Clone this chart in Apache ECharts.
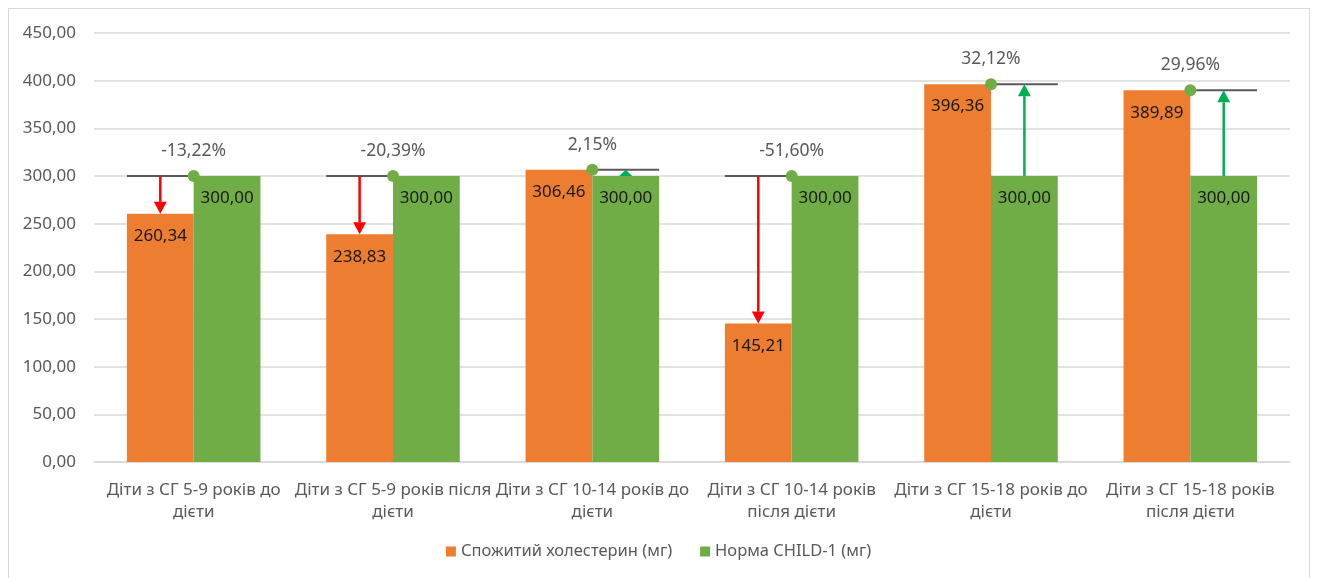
<!DOCTYPE html>
<html>
<head>
<meta charset="utf-8">
<script src="https://cdn.jsdelivr.net/npm/echarts@6/dist/echarts.min.js"></script>
<style>
  html, body { margin: 0; padding: 0; background: #fff; }
  #frame { position: absolute; left: 8px; top: 8px; width: 1302px; height: 600px; border: 1px solid #d9d9d9; box-sizing: border-box; }
  #chart { position: absolute; left: 0; top: 0; width: 1317px; height: 578px; }
</style>
</head>
<body>
<div id="frame"></div>
<div id="chart"></div>
<script>
const categories = [
  "Діти з СГ 5-9 років до\nдієти",
  "Діти з СГ 5-9 років після\nдієти",
  "Діти з СГ 10-14 років до\nдієти",
  "Діти з СГ 10-14 років\nпісля дієти",
  "Діти з СГ 15-18 років до\nдієти",
  "Діти з СГ 15-18 років\nпісля дієти"
];
const consumed = [260.34, 238.83, 306.46, 145.21, 396.36, 389.89];
const norm = [300, 300, 300, 300, 300, 300];
const diffLabels = ["-13,22%", "-20,39%", "2,15%", "-51,60%", "32,12%", "29,96%"];

const FONT = "Noto Sans";
const GAP = 0.33;
const fmt = v => v.toFixed(2).replace(".", ",");

const chart = echarts.init(document.getElementById("chart"));

function arrow(x, y0, y1, color) {
  const dir = y1 > y0 ? 1 : -1;
  const len = Math.abs(y1 - y0);
  const headH = Math.min(12, len);
  const headW = 13;
  const yb = y1 - dir * headH;
  const parts = [];
  if (len > headH) {
    parts.push({
      type: "line",
      shape: { x1: x, y1: y0, x2: x, y2: yb },
      style: { stroke: color, lineWidth: 2.5 }
    });
  }
  parts.push({
    type: "polygon",
    shape: { points: [[x - headW / 2, yb], [x + headW / 2, yb], [x, y1]] },
    style: { fill: color }
  });
  return parts;
}

function renderItem(params, api) {
  const i = api.value(0);
  const v = api.value(1);
  const n = api.value(2);
  const base = api.coord([i, n]);
  const top = api.coord([i, v]);
  const band = api.size([1, 0])[0];
  const barW = band * (1 - GAP) / 2;
  const cx = base[0];
  const children = [];
  let dotY;
  if (v < n) {
    dotY = base[1];
    children.push({
      type: "line",
      shape: { x1: cx - barW, y1: base[1], x2: cx, y2: base[1] },
      style: { stroke: "#595959", lineWidth: 2 }
    });
    children.push(...arrow(cx - barW / 2, base[1], top[1], "#ff0000"));
  } else {
    dotY = top[1];
    children.push({
      type: "line",
      shape: { x1: cx, y1: top[1], x2: cx + barW, y2: top[1] },
      style: { stroke: "#595959", lineWidth: 2 }
    });
    children.push(...arrow(cx + barW / 2, base[1], top[1], "#00b050"));
  }
  children.push({
    type: "circle",
    shape: { cx: cx, cy: dotY, r: 6 },
    style: { fill: "#70ad47" }
  });
  children.push({
    type: "text",
    x: cx,
    y: dotY - 25,
    style: {
      text: diffLabels[i],
      fill: "#595959",
      font: "17.5px '" + FONT + "'",
      align: "center",
      verticalAlign: "middle"
    }
  });
  return { type: "group", children: children };
}

chart.setOption({
  animation: false,
  textStyle: { fontFamily: FONT },
  grid: { left: 94, right: 27, top: 33, bottom: 116 },
  legend: {
    bottom: 13,
    left: "center",
    itemWidth: 10,
    itemHeight: 10,
    itemGap: 28,
    icon: "rect",
    textStyle: { color: "#595959", fontSize: 16.5, fontFamily: FONT },
    data: ["Спожитий холестерин (мг)", "Норма CHILD-1 (мг)"]
  },
  xAxis: {
    type: "category",
    data: categories,
    axisLine: { lineStyle: { color: "#d9d9d9", width: 1.5 } },
    axisTick: { show: false },
    axisLabel: {
      color: "#595959",
      fontSize: 17,
      lineHeight: 22,
      margin: 17,
      interval: 0
    }
  },
  yAxis: {
    type: "value",
    min: 0,
    max: 450,
    interval: 50,
    axisLine: { show: false },
    axisTick: { show: false },
    splitLine: { lineStyle: { color: "#d9d9d9", width: 1.5 } },
    axisLabel: { color: "#595959", fontSize: 17, margin: 18, formatter: v => fmt(v) }
  },
  series: [
    {
      name: "Спожитий холестерин (мг)",
      type: "bar",
      data: consumed,
      itemStyle: { color: "#ed7d31" },
      barGap: "0%",
      barCategoryGap: (GAP * 100) + "%",
      label: {
        show: true,
        position: "insideTop",
        distance: 14,
        color: "#1a1a1a",
        fontSize: 17,
        formatter: p => fmt(p.value)
      }
    },
    {
      name: "Норма CHILD-1 (мг)",
      type: "bar",
      data: norm,
      itemStyle: { color: "#70ad47" },
      barGap: "0%",
      barCategoryGap: (GAP * 100) + "%",
      label: {
        show: true,
        position: "insideTop",
        distance: 14,
        color: "#1a1a1a",
        fontSize: 17,
        formatter: p => fmt(p.value)
      }
    },
    {
      type: "custom",
      renderItem: renderItem,
      encode: { x: 0, y: [1, 2] },
      data: consumed.map((v, i) => [i, v, norm[i]]),
      z: 5,
      silent: true
    }
  ]
});
</script>
</body>
</html>
